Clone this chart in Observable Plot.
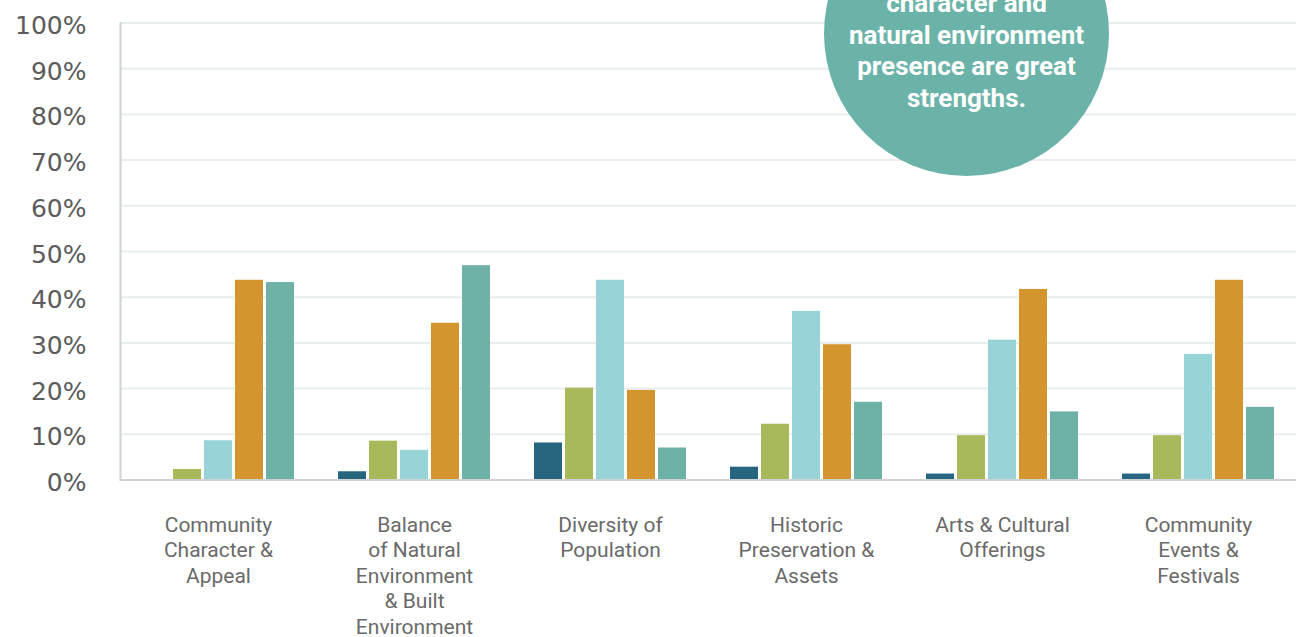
<!DOCTYPE html>
<html>
<head>
<meta charset="utf-8">
<script src="https://cdn.jsdelivr.net/npm/d3@7"></script>
<script src="https://cdn.jsdelivr.net/npm/@observablehq/plot@0.6"></script>
<style>
  body { margin: 0; background: #fff; overflow: hidden; }
  #wrap { position: relative; width: 1303px; height: 637px; overflow: hidden; }
  #wrap svg { position: absolute; left: 0; top: 0; }
  #bubble { position: absolute; left: 824px; top: -109px; width: 285px; height: 285px; border-radius: 50%; background: #6bb3a9; }
  #bubbleText { position: absolute; left: 824px; width: 285px; top: -11.6px; text-align: center; color: #fff;
    font-family: Roboto, sans-serif; font-weight: bold; font-size: 26px; line-height: 31.5px; }
</style>
</head>
<body>
<div id="wrap"></div>
<script>
// ---- data ----
const categories = [
  "Community Character & Appeal",
  "Balance of Natural Environment & Built Environment",
  "Diversity of Population",
  "Historic Preservation & Assets",
  "Arts & Cultural Offerings",
  "Community Events & Festivals"
];
const categoryLabels = [
  "Community\nCharacter &\nAppeal",
  "Balance\nof Natural\nEnvironment\n& Built\nEnvironment",
  "Diversity of\nPopulation",
  "Historic\nPreservation &\nAssets",
  "Arts & Cultural\nOfferings",
  "Community\nEvents &\nFestivals"
];
const series = ["Very Weak", "Weak", "Neutral", "Strong", "Very Strong"];
const seriesColors = ["#266480", "#a8b95b", "#98d4d7", "#d3962e", "#6db1a7"];
const veryWeak   = [0,    1.8,  8.1, 2.8,  1.3,  1.3];
const weak       = [2.3,  8.5, 20.1, 12.2, 9.7,  9.7];
const neutral    = [8.6,  6.5, 43.7, 36.9, 30.6, 27.5];
const strong     = [43.7, 34.3, 19.6, 29.6, 41.7, 43.7];
const veryStrong = [43.2, 46.9, 7.0, 17.0, 14.9, 15.9];
const yTicks = [0, 10, 20, 30, 40, 50, 60, 70, 80, 90, 100];
const annotationLines = ["character and", "natural environment", "presence are great", "strengths."];

const seriesValues = [veryWeak, weak, neutral, strong, veryStrong];
const data = categories.flatMap((c, i) =>
  series.map((s, j) => ({ category: c, series: s, value: seriesValues[j][i] }))
);

const chart = Plot.plot({
  width: 1303,
  height: 637,
  marginLeft: 120,
  marginRight: 7,
  marginTop: 22.5,
  marginBottom: 157.5,
  style: { fontFamily: "Roboto, sans-serif", background: "transparent", overflow: "visible" },
  fx: { domain: categories, padding: 0, label: null, axis: null },
  x: { domain: series, paddingInner: 0.087, paddingOuter: 0.68, axis: null },
  y: { domain: [0, 100], axis: null },
  color: { domain: series, range: seriesColors },
  marks: [
    Plot.gridY(yTicks, { stroke: "#e8eded", strokeOpacity: 1, strokeWidth: 2 }),
    Plot.axisY(yTicks, {
      tickSize: 0, tickPadding: 34, tickFormat: d => d + "%", label: null,
      fontSize: 25, fontFamily: "DejaVu Sans", fill: "#5b5b5b", dy: 3
    }),
    Plot.barY(data, { fx: "category", x: "series", y: "value", fill: "series" }),
    Plot.ruleY([0], { stroke: "#cfd3d3", strokeWidth: 2 }),
    Plot.frame({ anchor: "left", facetAnchor: "left", stroke: "#cfd3d3", strokeWidth: 2 }),
    Plot.axisFx({
      anchor: "bottom", tickSize: 0, tickPadding: 33.5, label: null,
      tickFormat: c => categoryLabels[categories.indexOf(c)],
      fontSize: 21, lineHeight: 25.5 / 21, fill: "#6a6a6a", fontFamily: "Roboto"
    })
  ]
});

const wrap = document.getElementById("wrap");
wrap.appendChild(chart);
const bubble = document.createElement("div");
bubble.id = "bubble";
wrap.appendChild(bubble);
const bubbleText = document.createElement("div");
bubbleText.id = "bubbleText";
bubbleText.innerHTML = annotationLines.map(l => `<div>${l}</div>`).join("");
wrap.appendChild(bubbleText);
</script>
</body>
</html>
